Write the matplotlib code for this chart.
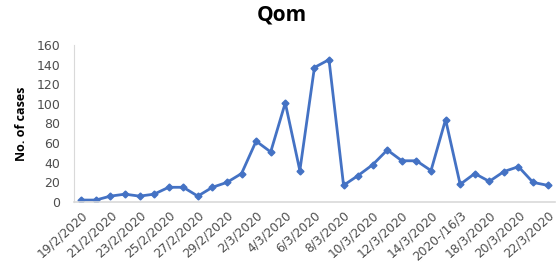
import numpy as np
import matplotlib.pyplot as plt

# daily cases in Qom, 19/2/2020 .. 22/3/2020
dates = ["19/2/2020", "20/2/2020", "21/2/2020", "22/2/2020", "23/2/2020", "24/2/2020",
         "25/2/2020", "26/2/2020", "27/2/2020", "28/2/2020", "29/2/2020", "1/3/2020",
         "2/3/2020", "3/3/2020", "4/3/2020", "5/3/2020", "6/3/2020", "7/3/2020",
         "8/3/2020", "9/3/2020", "10/3/2020", "11/3/2020", "12/3/2020", "13/3/2020",
         "14/3/2020", "15/3/2020", "2020-/16/3", "17/3/2020", "18/3/2020", "19/3/2020",
         "20/3/2020", "21/3/2020", "22/3/2020"]
cases = [2, 2, 6, 8, 6, 8, 15, 15, 6, 15, 20, 29, 62, 51, 101, 32, 137, 145,
         17, 27, 38, 53, 42, 42, 32, 84, 18, 29, 21, 31, 36, 20, 17]
y_ticks = [0, 20, 40, 60, 80, 100, 120, 140, 160]

plt.rcParams['font.family'] = ['DejaVu Sans']
blue = "#4472C4"
grey = "#4d4d4d"

fig = plt.figure(figsize=(5.56, 2.69), dpi=100)
ax = fig.add_axes([0.133, 0.249, 0.865, 0.584])

x = np.arange(len(cases))
ax.plot(x, cases, color=blue, lw=2, marker="D", ms=3.5, mec=blue, mfc=blue)

ax.set_xlim(-0.5, len(cases) - 0.5)
ax.set_ylim(0, 160)
ax.set_yticks(y_ticks)
ax.tick_params(axis="y", length=0, labelsize=9, labelcolor=grey, pad=10)
ax.set_xticks(x[::2])
ax.set_xticklabels(dates[::2], rotation=42, ha="right", rotation_mode="anchor",
                   fontsize=8.8, color=grey)
ax.tick_params(axis="x", length=0, pad=5)

for s in ["top", "right"]:
    ax.spines[s].set_visible(False)
ax.spines["left"].set_color("#D9D9D9")
ax.spines["bottom"].set_color("#D9D9D9")
ax.spines["bottom"].set_linewidth(1.2)

ax.set_ylabel("No. of cases", fontsize=9, fontweight="bold", family="Open Sans", labelpad=6)
fig.text(0.507, 0.945, "Qom", ha="center", va="center", fontsize=15,
         fontweight="bold", family="Open Sans")

fig.savefig("out.png", dpi=100)
